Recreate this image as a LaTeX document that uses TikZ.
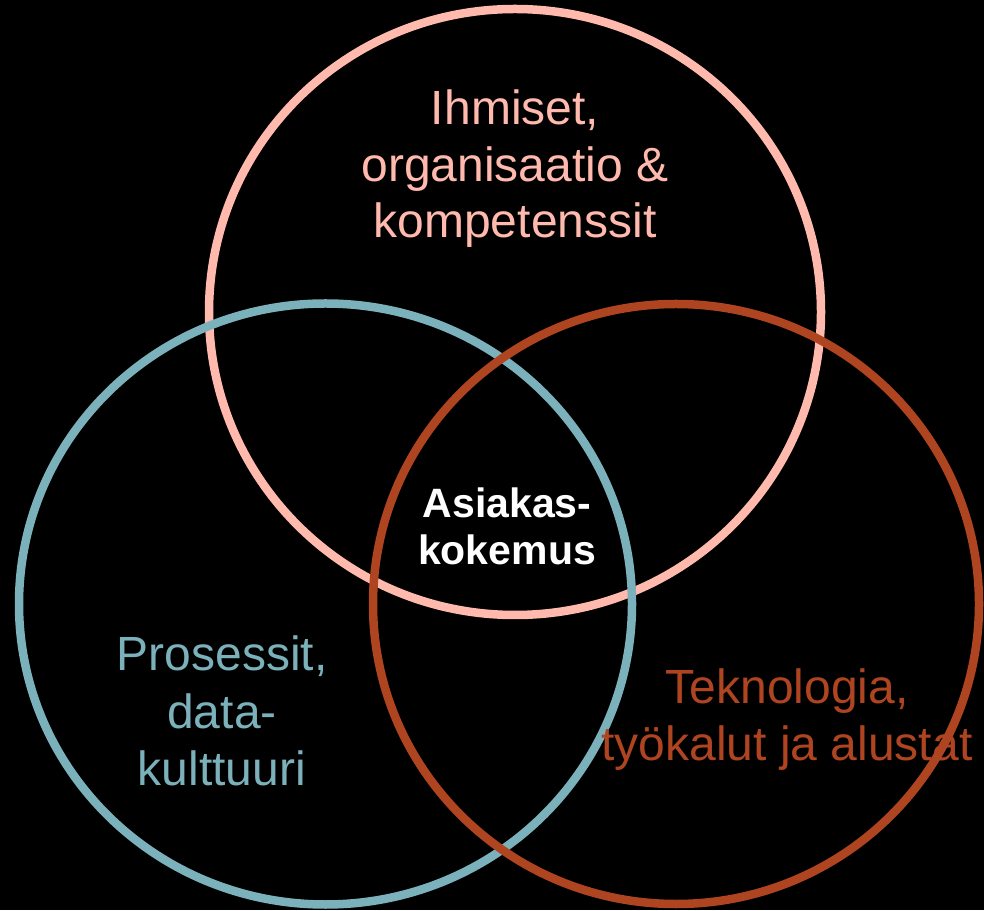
\documentclass[tikz,border=0pt]{standalone}
\usepackage{fontspec}
\setmainfont{Liberation Sans}
\definecolor{pinkc}{HTML}{FFB9AD}
\definecolor{tealc}{HTML}{7BB1BB}
\definecolor{rustc}{HTML}{AE4420}
\tikzset{
  ring/.style={line width=8.5pt},
  lbl/.style={anchor=base, inner sep=0pt, font=\fontsize{48}{57}\selectfont},
  ctr/.style={anchor=base, inner sep=0pt, text=white, font=\fontsize{41}{47}\selectfont\bfseries}
}
\begin{document}
\begin{tikzpicture}[x=1pt,y=1pt]
\useasboundingbox (0,0) rectangle (984,910);
\fill[black] (0,0) rectangle (984,910);
% circles (y = 910 - image y)
\draw[ring, pinkc] (515,598) ellipse [x radius=306, y radius=303];
\draw[ring, tealc] (325.5,306) ellipse [x radius=306.5, y radius=300.5];
\draw[ring, rustc] (676,306) ellipse [x radius=303, y radius=300];
% top label
\node[lbl, text=pinkc] (p1) at (515,785) {Ihmiset,};
\node[lbl, text=pinkc] (p2) at (515,728) {organisaatio \&};
\node[lbl, text=pinkc] (p3) at (515,672) {kompetenssit};
% left label
\node[lbl, text=tealc] (t1) at (222,239) {Prosessit,};
\node[lbl, text=tealc] (t2) at (222,182) {data-};
\node[lbl, text=tealc] (t3) at (222,125) {kulttuuri};
% right label
\node[lbl, text=rustc] (r1) at (787,207) {Teknologia,};
\node[lbl, text=rustc] (r2) at (787,150) {työkalut ja alustat};
% centre
\node[ctr] (c1) at (507,392) {Asiakas-};
\node[ctr] (c2) at (507,345) {kokemus};
\end{tikzpicture}
\end{document}
